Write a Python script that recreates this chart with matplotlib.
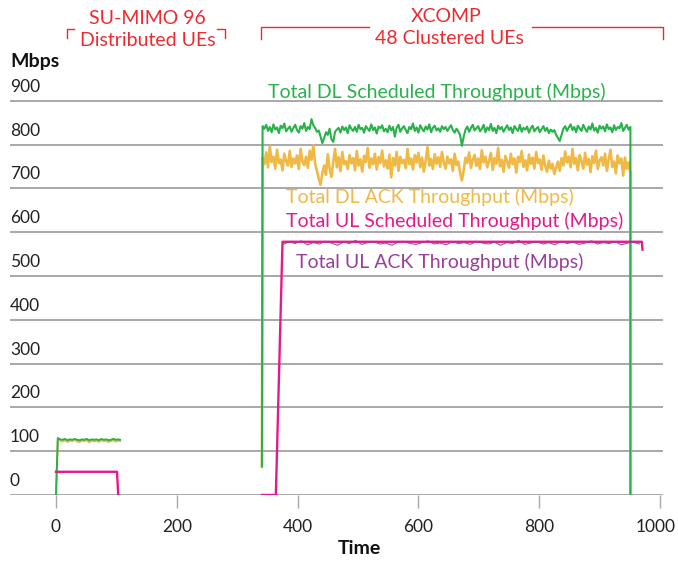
import numpy as np
import matplotlib
matplotlib.use("Agg")
import matplotlib.pyplot as plt
import matplotlib.transforms as mtransforms
from matplotlib.lines import Line2D

plt.rcParams['font.family'] = ['Lato', 'DejaVu Sans']

# ---------------- data ----------------
y_ticks = [0, 100, 200, 300, 400, 500, 600, 700, 800, 900]
x_ticks = [0, 200, 400, 600, 800, 1000]

# SU-MIMO phase
t_su = [0, 3, 7, 11, 15, 19, 23, 27, 31, 35, 39, 43, 47, 51, 55, 59, 63, 67, 71,
        75, 79, 83, 87, 91, 95, 99, 103, 106]
dl_sched_su = [0, 130, 127, 126, 128, 125, 127, 126, 128, 126, 125, 127, 126, 128,
               125, 127, 126, 127, 125, 128, 126, 127, 125, 126, 128, 126, 127, 126]
dl_ack_su = [0, 128, 124, 122, 125, 121, 124, 123, 126, 122, 121, 124, 123, 125,
             120, 124, 122, 124, 121, 125, 123, 124, 121, 123, 125, 122, 124, 123]
t_ul_su = [0, 101, 103]
ul_sched_su = [53, 53, 0]

# XCOMP phase (DL sampled every 3 time units from 342 to 951)
t_dl_x = list(range(342, 952, 3))
dl_sched_x = [
    842, 836, 845, 831, 840, 828, 846, 834, 839, 826, 843, 837, 848, 830, 836, 841, 829,
    838, 845, 833, 827, 842, 836, 849, 831, 840, 835, 858, 844, 838, 829, 832, 818, 803,
    815, 828, 822, 836, 812, 806, 829, 834, 838, 827, 841, 833, 839, 826, 844, 836, 831,
    840, 829, 845, 835, 838, 827, 842, 836, 831, 846, 833, 839, 825, 841, 837, 844, 830,
    836, 828, 843, 832, 840, 818, 838, 845, 829, 837, 842, 833, 826, 840, 835, 848, 831,
    839, 827, 844, 836, 830, 841, 834, 846, 828, 838, 843, 832, 837, 829, 842, 835, 840,
    831, 838, 844, 833, 827, 836, 830, 822, 797, 818, 834, 841, 829, 838, 845, 832, 837,
    842, 830, 836, 845, 828, 839, 833, 847, 831, 838, 826, 843, 835, 840, 829, 837, 844,
    833, 839, 826, 842, 836, 831, 845, 829, 838, 834, 841, 827, 837, 843, 830, 836, 840,
    828, 835, 842, 831, 838, 826, 834, 829, 833, 822, 815, 808, 822, 836, 842, 831, 839,
    846, 833, 840, 828, 843, 837, 831, 845, 836, 829, 841, 834, 848, 832, 838, 827, 843,
    836, 841, 830, 846, 835, 839, 828, 844, 833, 840, 837, 849, 831, 838, 845, 834, 840,
]
dl_ack_x = [
    770, 755, 782, 748, 796, 760, 772, 745, 788, 758, 766, 741, 779, 762, 752, 785, 749,
    768, 757, 775, 744, 790, 761, 753, 772, 747, 786, 765, 798, 756, 740, 722, 708, 735,
    752, 731, 778, 745, 726, 760, 790, 748, 771, 739, 783, 755, 762, 744, 776, 757, 769,
    741, 785, 752, 766, 738, 774, 760, 792, 747, 768, 755, 779, 743, 771, 758, 786, 750,
    764, 745, 777, 725, 769, 752, 783, 740, 772, 758, 765, 746, 790, 755, 768, 743, 776,
    759, 781, 748, 770, 738, 763, 794, 752, 767, 744, 778, 756, 771, 749, 783, 760, 745,
    772, 757, 766, 740, 779, 753, 761, 735, 718, 742, 770, 758, 782, 747, 765, 776, 751,
    768, 744, 787, 759, 772, 748, 763, 781, 742, 769, 756, 792, 750, 765, 738, 774, 761,
    747, 779, 755, 768, 736, 772, 760, 785, 749, 764, 741, 777, 756, 770, 745, 783, 758,
    766, 742, 775, 751, 738, 763, 745, 756, 733, 748, 761, 740, 769, 752, 784, 759, 772,
    748, 790, 756, 769, 741, 776, 762, 745, 781, 754, 767, 737, 773, 758, 786, 744, 764,
    771, 752, 779, 740, 766, 788, 749, 761, 734, 775, 757, 768, 729, 770, 745, 759, 735,
]
dl_start_t, dl_start_v = 341, 65
dl_end_t = 951

t_ul_x = [341, 364, 375, 970, 971]
ul_sched_x = [0, 0, 578, 578, 560]

t_ul_ack = list(range(376, 967, 10))
ul_ack_x = [572, 578, 574, 580, 571, 576, 573, 579, 575, 570, 577, 574, 581, 572, 576,
            578, 573, 575, 570, 577, 579, 574, 572, 576, 580, 573, 575, 571, 578, 574,
            576, 572, 579, 575, 573, 577, 570, 576, 574, 581, 572, 575, 578, 573, 576,
            571, 579, 574, 577, 572, 575, 580, 573, 576, 574, 578, 571, 575, 577, 573]

# ---------------- style ----------------
GREEN = '#27b24a'
YELLOW = '#f0b945'
MAGENTA = '#e6198c'
PURPLE = '#9a3f99'
RED = '#ee2a30'
GRID = '#a8a8a8'
TXT = '#222222'

W, H = 678, 563
fig = plt.figure(figsize=(W / 100, H / 100), dpi=100)

def fx(px):
    return px / W

def fy(py):
    return 1 - py / H

# axes: gridlines from px 10 to 663; x 0 at px 56, 1000 at px 660
x_left_px, x_right_px = 10, 663
px_per_t = (660 - 56) / 1000.0
t_min = (x_left_px - 56) / px_per_t
t_max = (x_right_px - 56) / px_per_t
y0_px = 495
px_per_v = (495 - 100.7) / 900.0
top_px = 95
v_max = (y0_px - top_px) / px_per_v

ax = fig.add_axes([fx(x_left_px), fy(y0_px), (x_right_px - x_left_px) / W,
                   (y0_px - top_px) / H])
ax.set_xlim(t_min, t_max)
ax.set_ylim(0, v_max)
for s in ax.spines.values():
    s.set_visible(False)
ax.patch.set_alpha(0)

for v in y_ticks:
    ax.axhline(v, color=GRID, lw=1.4, zorder=1)

ax.set_yticks([])
ax.set_xticks(x_ticks)
ax.set_xticklabels([str(x) for x in x_ticks], fontsize=12.5, color=TXT)
ax.tick_params(axis='x', length=9, width=1.0, color=GRID, pad=8)
# keep the last label inside the canvas
last = ax.get_xticklabels()[-1]
last.set_transform(last.get_transform() +
                   mtransforms.ScaledTranslation(-4 / 100, 0, fig.dpi_scale_trans))

# y tick labels above gridlines
for v in y_ticks:
    py = y0_px - v * px_per_v - 14
    fig.text(fx(10), fy(py), str(v), fontsize=12.5, color=TXT, ha='left', va='center')

# ---------------- lines ----------------
# SU-MIMO
ax.plot(t_su, dl_ack_su, color=YELLOW, lw=1.4, zorder=3)
ax.plot(t_su, dl_sched_su, color=GREEN, lw=1.4, zorder=4)
ax.plot(t_ul_su, ul_sched_su, color=MAGENTA, lw=1.7, zorder=5)

# XCOMP DL
ax.plot([dl_start_t] + t_dl_x + [dl_end_t], [dl_start_v] + dl_ack_x + [0],
        color=YELLOW, lw=1.9, zorder=3)
ax.plot([dl_start_t] + t_dl_x + [dl_end_t], [dl_start_v] + dl_sched_x + [0],
        color=GREEN, lw=1.5, zorder=4)

# XCOMP UL
ax.plot(t_ul_x, ul_sched_x, color=MAGENTA, lw=1.7, zorder=5)
ax.plot(t_ul_ack, ul_ack_x, color=PURPLE, lw=0.8, zorder=6, alpha=0.9)

# ---------------- texts ----------------
fig.text(fx(10), fy(62), 'Mbps', fontsize=14, fontweight='bold', color='#111111',
         ha='left', va='center')
fig.text(fx(359), fy(549), 'Time', fontsize=14, fontweight='bold', color='#111111',
         ha='center', va='center')

fig.text(fx(437), fy(92), 'Total DL Scheduled Throughput (Mbps)', color=GREEN,
         fontsize=14, ha='center', va='center')
fig.text(fx(430), fy(197), 'Total DL ACK Throughput (Mbps)', color=YELLOW,
         fontsize=14, ha='center', va='center')
fig.text(fx(455), fy(221), 'Total UL Scheduled Throughput (Mbps)', color=MAGENTA,
         fontsize=14, ha='center', va='center')
fig.text(fx(440), fy(262), 'Total UL ACK Throughput (Mbps)', color=PURPLE,
         fontsize=14, ha='center', va='center')

fig.text(fx(147), fy(19), 'SU-MIMO 96', color=RED, fontsize=14, ha='center', va='center')
fig.text(fx(148), fy(41), 'Distributed UEs', color=RED, fontsize=14, ha='center', va='center')
fig.text(fx(446), fy(16), 'XCOMP', color=RED, fontsize=14, ha='center', va='center')
fig.text(fx(449), fy(38), '48 Clustered UEs', color=RED, fontsize=14, ha='center', va='center')

def bracket(xs, ys):
    fig.add_artist(Line2D([fx(x) for x in xs], [fy(y) for y in ys],
                          transform=fig.transFigure, color=RED, lw=1.0))

bracket([67, 67, 74], [38, 29, 29])
bracket([217, 225, 225], [29, 29, 38])
bracket([261, 261, 369], [39, 27, 27])
bracket([532, 663, 663], [27, 27, 39])

fig.savefig('out.png', dpi=100)
